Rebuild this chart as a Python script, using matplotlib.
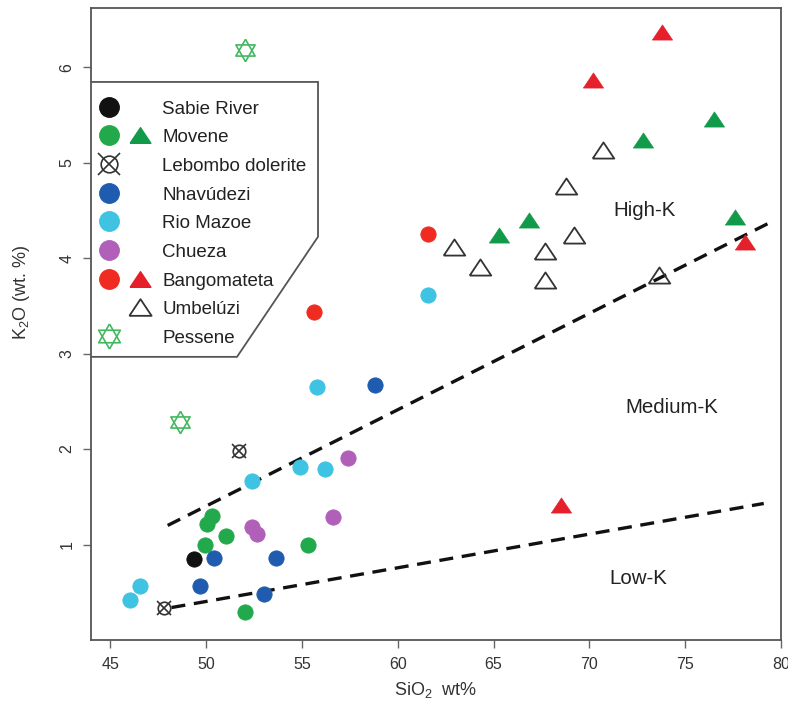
import matplotlib
matplotlib.use("Agg")
import matplotlib.pyplot as plt
from matplotlib.lines import Line2D
from matplotlib.patches import Polygon
from matplotlib.legend_handler import HandlerTuple

plt.rcParams['font.family'] = ['Liberation Sans', 'DejaVu Sans']
plt.rcParams['mathtext.default'] = 'regular'

# ---------------- data ----------------
sabie_x = [49.4]
sabie_y = [0.85]
movene_c_x = [50.3, 50.05, 51.05, 49.95, 55.3, 52.05]
movene_c_y = [1.30, 1.22, 1.09, 0.99, 0.99, 0.29]
movene_t_x = [76.5, 72.8, 66.85, 65.3, 77.6]
movene_t_y = [5.46, 5.24, 4.40, 4.24, 4.43]
lebombo_x = [51.7, 47.8]
lebombo_y = [1.98, 0.34]
nhav_x = [50.4, 53.65, 49.7, 53.05, 58.8]
nhav_y = [0.86, 0.86, 0.57, 0.48, 2.67]
rio_x = [52.4, 54.9, 56.2, 46.55, 46.05, 55.8, 61.6]
rio_y = [1.67, 1.81, 1.79, 0.57, 0.42, 2.65, 3.61]
chueza_x = [57.4, 56.65, 52.4, 52.65]
chueza_y = [1.91, 1.29, 1.18, 1.11]
bango_c_x = [55.65, 61.6]
bango_c_y = [3.44, 4.25]
bango_t_x = [73.8, 70.2, 78.1, 68.5]
bango_t_y = [6.37, 5.87, 4.17, 1.41]
umb_x = [70.7, 68.8, 69.2, 67.7, 67.7, 62.95, 64.3, 73.65]
umb_y = [5.13, 4.76, 4.24, 4.07, 3.77, 4.12, 3.91, 3.82]
pessene_x = [52.05, 48.65]
pessene_y = [6.18, 2.28]

highk_x = [48.0, 79.3]
highk_y = [1.20, 4.36]
lowk_x = [48.2, 79.1]
lowk_y = [0.34, 1.43]

field_labels = ["High-K", "Medium-K", "Low-K"]
field_x = [72.9, 74.3, 72.55]
field_y = [4.50, 2.44, 0.64]

legend_labels = ["Sabie River", "Movene", "Lebombo dolerite", "Nhavúdezi",
                 "Rio Mazoe", "Chueza", "Bangomateta", "Umbelúzi", "Pessene"]

x_ticks = [45, 50, 55, 60, 65, 70, 75, 80]
y_ticks = [1, 2, 3, 4, 5, 6]

# ---------------- style ----------------
C_BLACK = '#111111'
C_GREEN = '#22a94c'
C_GREEN_T = '#119a4a'
C_BLUE = '#1f5cb0'
C_CYAN = '#3ec3e3'
C_PURPLE = '#b060b8'
C_RED = '#ef2b22'
C_RED_T = '#e5202a'
C_PESS = '#44b861'

TRI = [(-1, -0.75), (1, -0.75), (0, 0.75), (-1, -0.75)]
STAR_UP = [(0, 1), (-0.866, -0.5), (0.866, -0.5), (0, 1)]
STAR_DN = [(0, -1), (-0.866, 0.5), (0.866, 0.5), (0, -1)]

fig = plt.figure(figsize=(7.88, 7.16), dpi=100)
ax = fig.add_axes([91/788, 76/716, 690/788, 632/716])

ms_c = 11
ms_t = 14.5


def circ(ax_, x, y, c, ms=ms_c, **kw):
    return ax_.plot(x, y, ls='none', marker='o', ms=ms, mfc=c, mec=c, mew=0.6, **kw)[0]


# dashed field boundaries
ax.plot(highk_x, highk_y, ls=(0, (4.2, 2.6)), color='#111111', lw=2.4, zorder=2)
ax.plot(lowk_x, lowk_y, ls=(0, (4.2, 2.6)), color='#111111', lw=2.4, zorder=2)

circ(ax, sabie_x, sabie_y, C_BLACK, zorder=3)
circ(ax, movene_c_x, movene_c_y, C_GREEN, zorder=3)
circ(ax, nhav_x, nhav_y, C_BLUE, zorder=3)
circ(ax, rio_x, rio_y, C_CYAN, zorder=3)
circ(ax, chueza_x, chueza_y, C_PURPLE, zorder=3)
circ(ax, bango_c_x, bango_c_y, C_RED, zorder=3)
ax.plot(movene_t_x, movene_t_y, ls='none', marker=TRI, ms=ms_t, mfc=C_GREEN_T, mec=C_GREEN_T, mew=0.5, zorder=3)
ax.plot(bango_t_x, bango_t_y, ls='none', marker=TRI, ms=ms_t, mfc=C_RED_T, mec=C_RED_T, mew=0.5, zorder=3)
ax.plot(umb_x, umb_y, ls='none', marker=TRI, ms=15.5, mfc='none', mec='#333333', mew=1.3, zorder=3)
ax.plot(lebombo_x, lebombo_y, ls='none', marker='o', ms=9, mfc='none', mec='#333333', mew=1.2, zorder=3)
ax.plot(lebombo_x, lebombo_y, ls='none', marker='x', ms=10, mec='#333333', mew=1.2, zorder=3)
ax.plot(pessene_x, pessene_y, ls='none', marker=STAR_UP, ms=16, mfc='none', mec=C_PESS, mew=1.2, zorder=3)
ax.plot(pessene_x, pessene_y, ls='none', marker=STAR_DN, ms=16, mfc='none', mec=C_PESS, mew=1.2, zorder=3)

for t, x, y in zip(field_labels, field_x, field_y):
    ax.text(x, y, t, fontsize=14.8, color='#222222', ha='center', va='center')

# axes
ax.set_xlim(44.0, 80.0)
ax.set_ylim(0.0, 6.62)
ax.set_xticks(x_ticks)
ax.set_yticks(y_ticks)
ax.set_xticklabels([str(v) for v in x_ticks])
ax.set_yticklabels([str(v) for v in y_ticks], rotation=90, va='center')
ax.tick_params(direction='out', length=6, width=1.0, color='#666666',
               labelsize=11.5, labelcolor='#333333', pad=6)
for s in ax.spines.values():
    s.set_color('#555555')
    s.set_linewidth(1.3)
ax.set_xlabel('SiO$_2$  wt%', fontsize=13, color='#333333', labelpad=6)
ax.set_ylabel('K$_2$O (wt. %)', fontsize=13, color='#333333')
ax.yaxis.set_label_coords(-0.085, 0.55)

# legend outline polygon (axes coords)
poly = Polygon([(0, 0.883), (0.329, 0.883), (0.329, 0.638), (0.2116, 0.448), (0, 0.448)],
               closed=True, transform=ax.transAxes, facecolor='white',
               edgecolor='#555555', lw=1.3, zorder=4)
ax.add_patch(poly)


class Overlay(tuple):
    """Handles drawn on top of each other in one legend slot."""
    pass


blank = Line2D([], [], ls='none', marker='o', mfc='none', mec='none', ms=14)
lms = 14


def lc(c):
    return Line2D([], [], ls='none', marker='o', ms=lms, mfc=c, mec=c)


def lt(c):
    return Line2D([], [], ls='none', marker=TRI, ms=15, mfc=c, mec=c)


leb_h = Overlay((Line2D([], [], ls='none', marker='o', ms=12, mfc='none', mec='#333333', mew=1.2),
                 Line2D([], [], ls='none', marker='x', ms=16, mec='#333333', mew=1.2)))
pes_h = Overlay((Line2D([], [], ls='none', marker=STAR_UP, ms=18, mfc='none', mec=C_PESS, mew=1.2),
                 Line2D([], [], ls='none', marker=STAR_DN, ms=18, mfc='none', mec=C_PESS, mew=1.2)))
umb_h = Line2D([], [], ls='none', marker=TRI, ms=16, mfc='none', mec='#333333', mew=1.3)

handles = [
    (lc(C_BLACK), blank),
    (lc(C_GREEN), lt(C_GREEN_T)),
    (leb_h, blank),
    (lc(C_BLUE), blank),
    (lc(C_CYAN), blank),
    (lc(C_PURPLE), blank),
    (lc(C_RED), lt(C_RED_T)),
    (blank, umb_h),
    (pes_h, blank),
]

leg = ax.legend(handles, legend_labels,
                handler_map={tuple: HandlerTuple(ndivide=None, pad=0),
                             Overlay: HandlerTuple(ndivide=1, pad=0)},
                loc='upper left', bbox_to_anchor=(0.0, 0.859),
                frameon=False, fontsize=13.5, handlelength=3.3,
                handleheight=0.8, handletextpad=0.35, labelspacing=0.585,
                borderpad=0.15, borderaxespad=0.0)
leg.set_zorder(5)
for t in leg.get_texts():
    t.set_color('#222222')

fig.savefig('out.png', dpi=100)
